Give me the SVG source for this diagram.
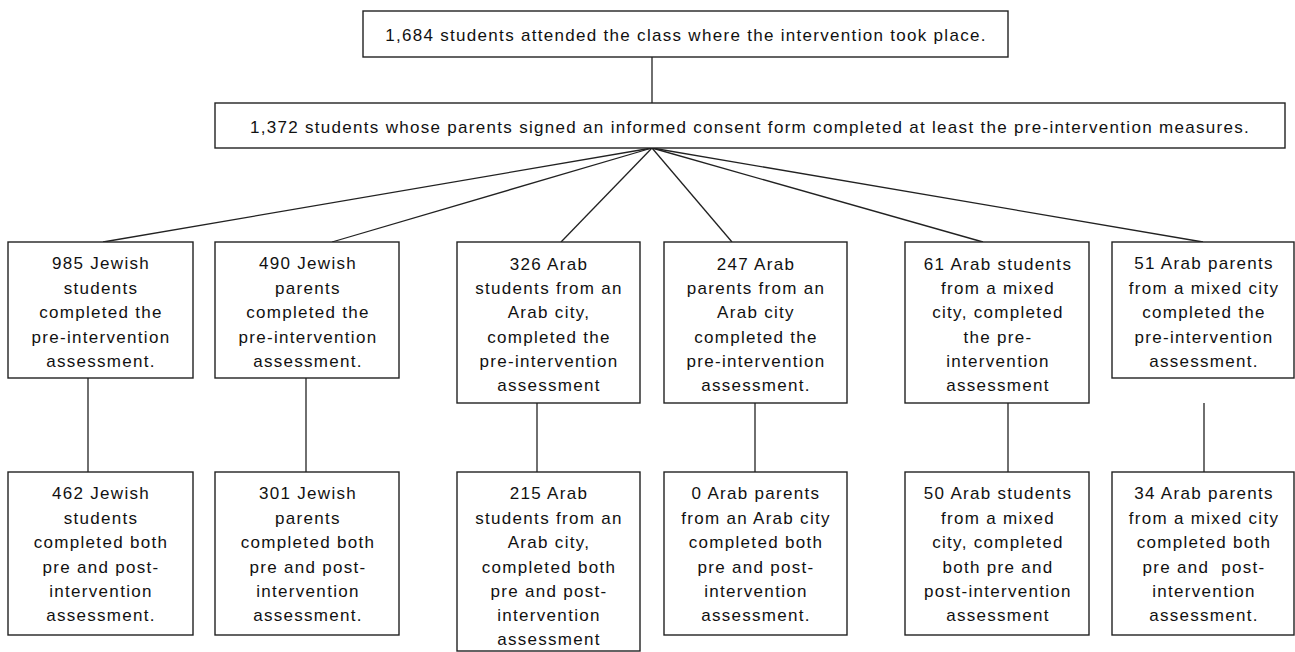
<svg xmlns="http://www.w3.org/2000/svg" width="1295" height="652" viewBox="0 0 1295 652">
<style>
  .box { fill: #ffffff; stroke: #222222; stroke-width: 1.4; }
  .conn line { stroke: #222222; stroke-width: 1.3; fill: none; }
  text { font-family: "Liberation Sans", Arial, sans-serif; font-size: 17px; letter-spacing: 1.3px; fill: #111111; text-anchor: middle; }
  .pre { white-space: pre; }
</style>
<rect x="0" y="0" width="1295" height="652" fill="#ffffff"/>

<g id="connectors" class="conn">
  <line x1="652" y1="57" x2="652" y2="103"/>
  <line x1="652" y1="148" x2="103" y2="242"/>
  <line x1="652" y1="148" x2="332" y2="242"/>
  <line x1="652" y1="148" x2="561" y2="242"/>
  <line x1="652" y1="148" x2="732" y2="242"/>
  <line x1="652" y1="148" x2="983" y2="242"/>
  <line x1="652" y1="148" x2="1203" y2="242"/>
  <line x1="88" y1="378" x2="88" y2="472"/>
  <line x1="306" y1="378" x2="306" y2="472"/>
  <line x1="537" y1="403" x2="537" y2="472"/>
  <line x1="755" y1="403" x2="755" y2="472"/>
  <line x1="1008" y1="403" x2="1008" y2="472"/>
  <line x1="1204" y1="403" x2="1204" y2="472"/>
</g>

<g id="node-top">
  <rect class="box" x="363" y="11" width="645" height="46"/>
  <text x="686" y="41">1,684 students attended the class where the intervention took place.</text>
</g>

<g id="node-consent">
  <rect class="box" x="215" y="103" width="1070" height="45"/>
  <text x="750" y="133">1,372 students whose parents signed an informed consent form completed at least the pre-intervention measures.</text>
</g>

<g id="node-pre-jewish-students">
  <rect class="box" x="8" y="242" width="185" height="136"/>
  <text x="101" y="269">985 Jewish</text>
  <text x="101" y="294">students</text>
  <text x="101" y="318">completed the</text>
  <text x="101" y="343">pre-intervention</text>
  <text x="101" y="367">assessment.</text>
</g>

<g id="node-pre-jewish-parents">
  <rect class="box" x="215" y="242" width="184" height="136"/>
  <text x="308" y="269">490 Jewish</text>
  <text x="308" y="294">parents</text>
  <text x="308" y="318">completed the</text>
  <text x="308" y="343">pre-intervention</text>
  <text x="308" y="367">assessment.</text>
</g>

<g id="node-pre-arab-students">
  <rect class="box" x="457" y="242" width="183" height="161"/>
  <text x="549" y="270">326 Arab</text>
  <text x="549" y="294">students from an</text>
  <text x="549" y="318">Arab city,</text>
  <text x="549" y="343">completed the</text>
  <text x="549" y="367">pre-intervention</text>
  <text x="549" y="391">assessment</text>
</g>

<g id="node-pre-arab-parents">
  <rect class="box" x="664" y="242" width="183" height="161"/>
  <text x="756" y="270">247 Arab</text>
  <text x="756" y="294">parents from an</text>
  <text x="756" y="318">Arab city</text>
  <text x="756" y="343">completed the</text>
  <text x="756" y="367">pre-intervention</text>
  <text x="756" y="391">assessment.</text>
</g>

<g id="node-pre-mixed-students">
  <rect class="box" x="905" y="242" width="184" height="161"/>
  <text x="998" y="270">61 Arab students</text>
  <text x="998" y="294">from a mixed</text>
  <text x="998" y="318">city, completed</text>
  <text x="998" y="343">the pre-</text>
  <text x="998" y="367">intervention</text>
  <text x="998" y="391">assessment</text>
</g>

<g id="node-pre-mixed-parents">
  <rect class="box" x="1112" y="242" width="182" height="136"/>
  <text x="1204" y="269">51 Arab parents</text>
  <text x="1204" y="294">from a mixed city</text>
  <text x="1204" y="318">completed the</text>
  <text x="1204" y="343">pre-intervention</text>
  <text x="1204" y="367">assessment.</text>
</g>

<g id="node-post-jewish-students">
  <rect class="box" x="8" y="472" width="185" height="163"/>
  <text x="101" y="499">462 Jewish</text>
  <text x="101" y="524">students</text>
  <text x="101" y="548">completed both</text>
  <text x="101" y="573">pre and post-</text>
  <text x="101" y="597">intervention</text>
  <text x="101" y="621">assessment.</text>
</g>

<g id="node-post-jewish-parents">
  <rect class="box" x="215" y="472" width="184" height="163"/>
  <text x="308" y="499">301 Jewish</text>
  <text x="308" y="524">parents</text>
  <text x="308" y="548">completed both</text>
  <text x="308" y="573">pre and post-</text>
  <text x="308" y="597">intervention</text>
  <text x="308" y="621">assessment.</text>
</g>

<g id="node-post-arab-students">
  <rect class="box" x="457" y="472" width="183" height="179"/>
  <text x="549" y="499">215 Arab</text>
  <text x="549" y="524">students from an</text>
  <text x="549" y="548">Arab city,</text>
  <text x="549" y="573">completed both</text>
  <text x="549" y="597">pre and post-</text>
  <text x="549" y="621">intervention</text>
  <text x="549" y="645">assessment</text>
</g>

<g id="node-post-arab-parents">
  <rect class="box" x="664" y="472" width="183" height="163"/>
  <text x="756" y="499">0 Arab parents</text>
  <text x="756" y="524">from an Arab city</text>
  <text x="756" y="548">completed both</text>
  <text x="756" y="573">pre and post-</text>
  <text x="756" y="597">intervention</text>
  <text x="756" y="621">assessment.</text>
</g>

<g id="node-post-mixed-students">
  <rect class="box" x="905" y="472" width="184" height="163"/>
  <text x="998" y="499">50 Arab students</text>
  <text x="998" y="524">from a mixed</text>
  <text x="998" y="548">city, completed</text>
  <text x="998" y="573">both pre and</text>
  <text x="998" y="597">post-intervention</text>
  <text x="998" y="621">assessment</text>
</g>

<g id="node-post-mixed-parents">
  <rect class="box" x="1112" y="472" width="182" height="163"/>
  <text x="1204" y="499">34 Arab parents</text>
  <text x="1204" y="524">from a mixed city</text>
  <text x="1204" y="548">completed both</text>
  <text x="1204" y="573" class="pre">pre and  post-</text>
  <text x="1204" y="597">intervention</text>
  <text x="1204" y="621">assessment.</text>
</g>
</svg>
